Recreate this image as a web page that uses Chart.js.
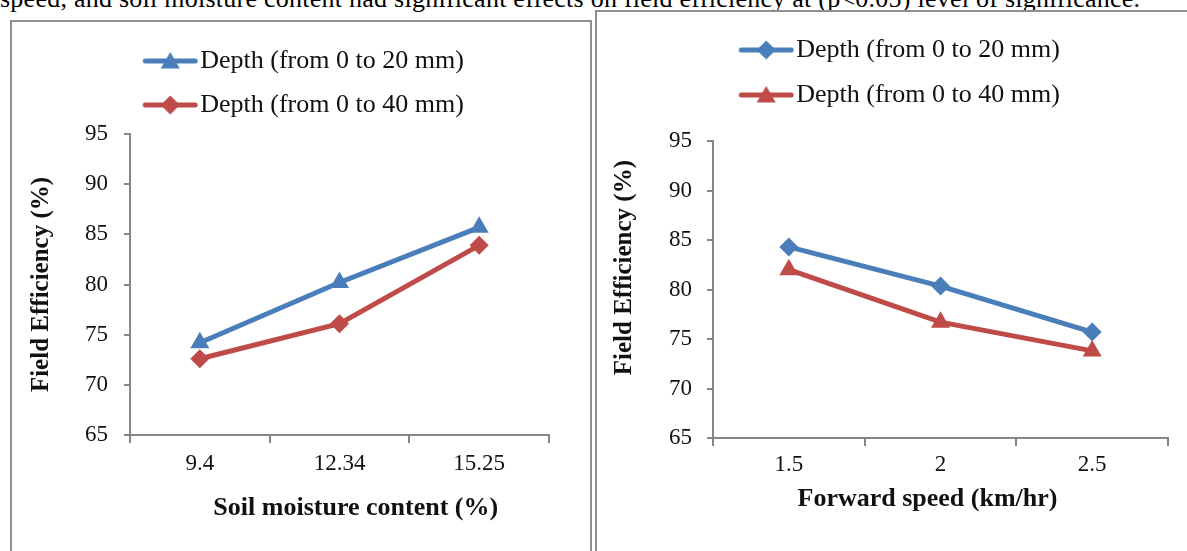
<!DOCTYPE html>
<html><head><meta charset="utf-8">
<script src="https://cdn.jsdelivr.net/npm/chart.js@4.4.1/dist/chart.umd.min.js"></script>
<style>
html,body{margin:0;padding:0;background:#fff;overflow:hidden;width:1187px;height:551px;}
#cap{position:absolute;left:0;top:-14px;font-family:"Liberation Serif",serif;font-size:26px;line-height:26px;letter-spacing:0.25px;white-space:nowrap;color:#000;}
.box{position:absolute;border:2px solid #8f8f8f;background:#fff;overflow:hidden;}
#b1{left:10px;top:20px;width:578px;height:560px;}
#b2{left:595px;top:10px;width:620px;height:570px;}
canvas{position:absolute;left:0;top:0;}
</style></head><body>
<div id="cap">speed, and soil moisture content had significant effects on field efficiency at (p&lt;0.05) level of significance.</div>
<div class="box" id="b1"><canvas id="c1" width="578" height="529"></canvas></div>
<div class="box" id="b2"><canvas id="c2" width="600" height="539"></canvas></div>
<script>
// ---- data ----
const moistureLabels = ['9.4', '12.34', '15.25'];
const moistureDepth20 = [74.2, 80.2, 85.7];
const moistureDepth40 = [72.6, 76.1, 83.9];
const speedLabels = ['1.5', '2', '2.5'];
const speedDepth20 = [84.3, 80.35, 75.7];
const speedDepth40 = [82.0, 76.7, 73.8];
const seriesNames = ['Depth (from 0 to 20 mm)', 'Depth (from 0 to 40 mm)'];
const yTickValues = [65, 70, 75, 80, 85, 90, 95];
const yTitle = 'Field Efficiency (%)';
const xTitleLeft = 'Soil moisture content (%)';
const xTitleRight = 'Forward speed (km/hr)';

// ---- styles ----
const FONT = '"Liberation Serif", "Times New Roman", serif';
const BLUE = '#4A7EBB';
const RED = '#BE4B48';
const AXIS = '#868686';
const TXT = '#111';
const sp = n => ' '.repeat(n);

function drawShape(g, shape, x, y, r) {
  g.beginPath();
  if (shape === 'triangle') {
    for (let k = 0; k < 3; k++) {
      const a = k * 2 * Math.PI / 3;
      const px = x + Math.sin(a) * r, py = y - Math.cos(a) * r;
      if (k === 0) g.moveTo(px, py); else g.lineTo(px, py);
    }
  } else {
    g.moveTo(x - r, y); g.lineTo(x, y - r); g.lineTo(x + r, y); g.lineTo(x, y + r);
  }
  g.closePath();
  g.fill();
}
// legend symbol: line with marker, drawn in the right-most 56px of the image
function legendSymbol(color, shape, boxW) {
  const W = boxW + 22;
  const c = document.createElement('canvas');
  c.width = W; c.height = 26;
  const g = c.getContext('2d');
  const x0 = W - 56;
  g.strokeStyle = color; g.lineWidth = 5; g.lineCap = 'round';
  g.beginPath(); g.moveTo(x0 + 3, 13); g.lineTo(x0 + 53, 13); g.stroke();
  g.fillStyle = color;
  drawShape(g, shape, x0 + 28, shape === 'triangle' ? 15 : 13, shape === 'triangle' ? 11 : 9.5);
  return c;
}

function makeChart(id, labels, d1, d2, shape1, shape2, xTitle, yTitleText, cfg) {
  const sym = [legendSymbol(BLUE, shape1, cfg.boxW), legendSymbol(RED, shape2, cfg.boxW)];
  const ds = (name, data, color, shape) => ({
    label: name, data, borderColor: color, backgroundColor: color,
    borderWidth: 5, tension: 0,
    pointStyle: shape === 'triangle' ? 'triangle' : 'rectRot',
    pointRadius: shape === 'triangle' ? 11 : 9.5,
    pointBorderWidth: 0, pointBackgroundColor: color, pointBorderColor: color,
    clip: false
  });
  return new Chart(document.getElementById(id), {
    type: 'line',
    data: {
      labels,
      datasets: [ds(seriesNames[0], d1, BLUE, shape1), ds(seriesNames[1], d2, RED, shape2)]
    },
    options: {
      responsive: false, animation: false, events: [],
      layout: {padding: {top: cfg.padTop, left: 0, right: cfg.padRight, bottom: 0}},
      plugins: {
        tooltip: {enabled: false},
        title: {display: false},
        subtitle: {display: true, text: '', weight: 500, font: {size: 1, lineHeight: 1}, padding: {top: 0, bottom: cfg.gap}},
        legend: {
          position: 'top',
          labels: {
            usePointStyle: true, pointStyleWidth: cfg.boxW, padding: cfg.legPad,
            color: TXT, font: {family: FONT, size: 26},
            generateLabels: chart => chart.data.datasets.map((d, i) => ({
              text: d.label, pointStyle: sym[i], fillStyle: d.borderColor,
              strokeStyle: d.borderColor, lineWidth: 0, hidden: false, datasetIndex: i, fontColor: TXT
            }))
          }
        }
      },
      scales: {
        x: {
          type: 'category', offset: true,
          grid: {display: true, drawOnChartArea: false, drawTicks: true, tickLength: 8, offset: true, color: AXIS, lineWidth: 2},
          border: {display: true, color: AXIS, width: 2},
          ticks: {color: TXT, font: {family: FONT, size: 23}, padding: cfg.xTickPad, maxRotation: 0, autoSkip: false},
          title: {display: true, text: xTitle, color: TXT, font: {family: FONT, size: 26, weight: 'bold', lineHeight: 1.2}, padding: {top: 0, bottom: cfg.xTitlePad}},
          afterFit: s => { s.height = cfg.xHeight; }
        },
        y: {
          min: 65, max: 95,
          afterBuildTicks: s => { s.ticks = yTickValues.map(v => ({value: v})); },
          grid: {display: true, drawOnChartArea: false, drawTicks: true, tickLength: 6, color: AXIS, lineWidth: 2},
          border: {display: true, color: AXIS, width: 2},
          ticks: {color: TXT, font: {family: FONT, size: 23}, padding: cfg.yTickPad},
          title: {display: true, text: yTitleText, color: TXT, font: {family: FONT, size: 25, weight: 'bold', lineHeight: 1.2}, padding: {top: cfg.yTitlePad, bottom: 0}},
          afterFit: s => { s.width = cfg.yWidth; }
        }
      }
    }
  });
}

makeChart('c1', moistureLabels, moistureDepth20, moistureDepth40, 'triangle', 'diamond',
  sp(5) + xTitleLeft, yTitle,
  {padTop: 8, padRight: 41, gap: 5, legPad: 18, boxW: 90, xTickPad: 7, xTitlePad: 27, xHeight: 116, yTickPad: 16, yTitlePad: 15, yWidth: 118});
makeChart('c2', speedLabels, speedDepth20, speedDepth40, 'diamond', 'triangle',
  xTitleRight + sp(4), sp(7) + yTitle,
  {padTop: 6, padRight: 29, gap: 22, legPad: 19, boxW: 78, xTickPad: 5, xTitlePad: 36, xHeight: 113, yTickPad: 15, yTitlePad: 13, yWidth: 116});
</script>
</body></html>
